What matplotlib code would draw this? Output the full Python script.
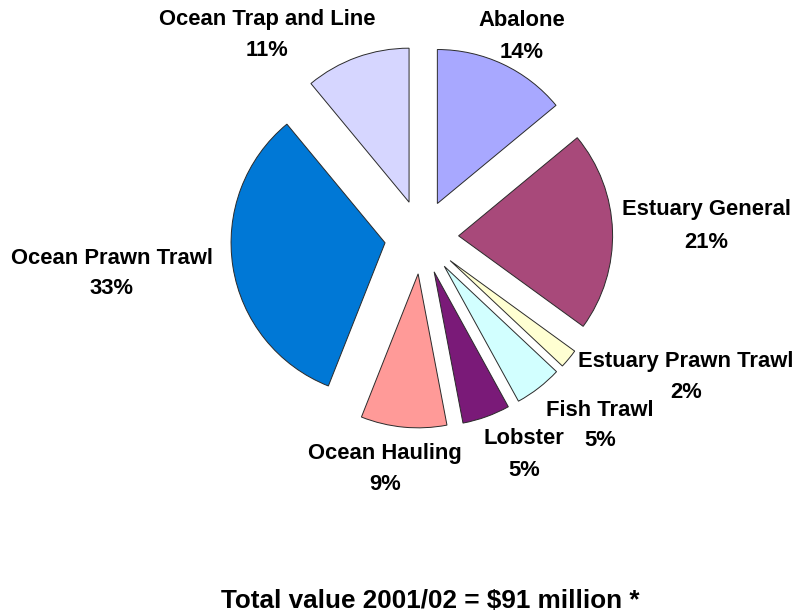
import matplotlib
matplotlib.use("Agg")
import matplotlib.pyplot as plt

# Share of total fishery value by sector, 2001/02 (percent)
sectors = ["Abalone", "Estuary General", "Estuary Prawn Trawl", "Fish Trawl",
           "Lobster", "Ocean Hauling", "Ocean Prawn Trawl", "Ocean Trap and Line"]
shares = [14, 21, 2, 5, 5, 9, 33, 11]
colors = ["#A8A8FF", "#A8497A", "#FFFFD2", "#D2FFFF",
          "#7A1A78", "#FF9A98", "#0078D6", "#D6D6FF"]
title = "Total value 2001/02 = $91 million *"

# label anchor points in figure pixels: (x, name line y, percent line y), y from top
label_xy = [(522, 20, 52), (706, 209, 243), (686, 362, 393), (600, 410, 440),
            (524, 438, 470), (385, 453, 485), (112, 258, 288), (267, 20, 50)]

W, H = 796, 614
fig = plt.figure(figsize=(W / 100, H / 100), dpi=100)
ax = fig.add_axes([0, 0, 1, 1])

radius = 154
center = (421.6, H - 237)
ax.pie(shares, colors=colors, startangle=90, counterclock=False,
       radius=radius, center=center, explode=[37] * len(shares),
       wedgeprops=dict(edgecolor="#2a2a2a", linewidth=0.7), frame=True)
ax.set_xlim(0, W)
ax.set_ylim(0, H)
ax.set_aspect("equal")
ax.axis("off")

font = dict(family=["Liberation Sans", "DejaVu Sans"], fontweight="bold",
            fontsize=15.8, color="black", ha="center", va="center")
for name, val, (x, y_name, y_pct) in zip(sectors, shares, label_xy):
    ax.text(x, H - y_name, name, **font)
    ax.text(x, H - y_pct, f"{val}%", **font)

ax.text(430, H - 601, title, ha="center", va="center", fontsize=18.8,
        color="black", family=["Liberation Sans", "DejaVu Sans"],
        fontweight="bold")

fig.savefig("out.png", dpi=100)
